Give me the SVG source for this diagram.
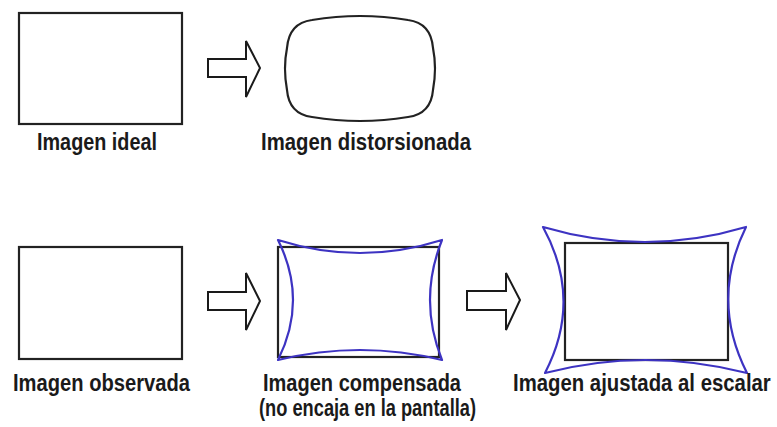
<svg xmlns="http://www.w3.org/2000/svg" width="777" height="427" viewBox="0 0 777 427">
<style>
.bg{fill:#ffffff}
.box{fill:#ffffff;stroke:#222222;stroke-width:2.2}
.curve{fill:none;stroke:#3d33c2;stroke-width:2.2;stroke-linejoin:round}
.arrow{fill:#ffffff;stroke:#1a1a1a;stroke-width:2;stroke-linejoin:miter}
.lbl{font-family:"Liberation Sans",Arial,sans-serif;font-weight:bold;font-size:23.5px;fill:#1a1a1a}
</style>
<rect class="bg" x="0" y="0" width="777" height="427"/>
<g id="ideal">
<rect class="box" x="19" y="13" width="163" height="111"/>
<text class="lbl" x="37" y="150" textLength="120" lengthAdjust="spacingAndGlyphs">Imagen ideal</text>
</g>
<g id="distorsionada">
<path class="box" d="M312,20 Q360,12 408,20 Q431,23 433,48 Q437,68 433,90 Q431,114 408,117 Q360,125 312,117 Q289,114 287,90 Q283,68 287,48 Q289,23 312,20 Z"/>
<text class="lbl" x="261" y="150" textLength="210" lengthAdjust="spacingAndGlyphs">Imagen distorsionada</text>
</g>
<g id="observada">
<rect class="box" x="19" y="247" width="163" height="112"/>
<text class="lbl" x="13" y="391" textLength="177" lengthAdjust="spacingAndGlyphs">Imagen observada</text>
</g>
<g id="compensada">
<rect class="box" x="278" y="247" width="161" height="110"/>
<path class="curve" d="M278,240 Q360,266 442,240 Q418,300 442,360 Q360,340 278,360 Q308,300 278,240 Z"/>
<text class="lbl" x="263" y="391" textLength="198" lengthAdjust="spacingAndGlyphs">Imagen compensada</text>
<text class="lbl" x="259" y="416" textLength="217" lengthAdjust="spacingAndGlyphs">(no encaja en la pantalla)</text>
</g>
<g id="ajustada">
<rect class="box" x="565" y="243" width="163" height="117"/>
<path class="curve" d="M543,227 Q645,257 746,227 Q710,300 747,373 Q645,347 545,373 Q583,300 543,227 Z"/>
<text class="lbl" transform="translate(513,391) scale(0.866,1)" x="0" y="0">Imagen ajustada al escalar</text>
</g>
<g id="connectors">
<polygon class="arrow" points="208,59 246,59 246,41 260,68 246,97 246,77 208,77"/>
<polygon class="arrow" points="208,292 246,292 246,273 260,301 246,330 246,310 208,310"/>
<polygon class="arrow" points="467,291 506,291 506,273 520,300 506,330 506,310 467,310"/>
</g>
</svg>
